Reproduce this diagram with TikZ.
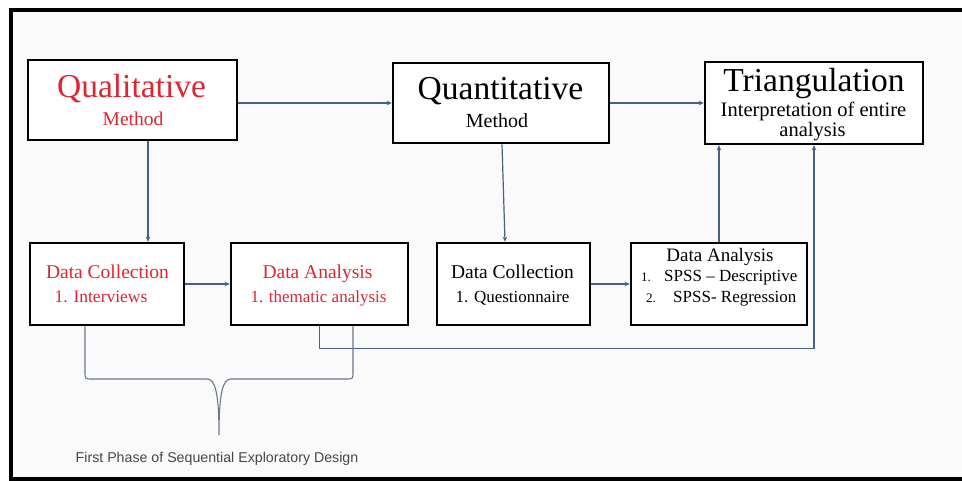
\documentclass[tikz,border=0pt]{standalone}
\usepackage{fontspec}
\setmainfont{Liberation Serif}
\newfontfamily\capfont{Liberation Sans}
\usetikzlibrary{arrows.meta,calc}
\definecolor{qred}{RGB}{220,38,50}
\definecolor{conn}{RGB}{68,98,134}
\definecolor{bracec}{RGB}{105,120,142}
\definecolor{bg}{RGB}{250,250,250}
\definecolor{captxt}{RGB}{70,70,70}
\newcommand{\fs}[1]{\fontsize{#1}{#1}\selectfont}
\tikzset{
  box/.style={draw=black, line width=2.6pt, fill=white, inner sep=0pt},
  connector/.style={draw=conn, line width=1.2pt, -{Stealth[length=5pt,width=4.5pt]}},
  bracepath/.style={draw=bracec, line width=1.1pt},
  txt/.style={anchor=base, inner sep=0pt},
}
\begin{document}
\begin{tikzpicture}[x=1pt,y=-1pt]
\useasboundingbox (0,0) rectangle (962,481);
\fill[white] (0,0) rectangle (962,481);
\fill[bg] (11,10) rectangle (962,479);
\draw[line width=4pt, black] (962,10) -- (11,10) -- (11,479) -- (962,479);

% boxes
\node[box, minimum width=209pt, minimum height=80pt] (qual) at (132.5,100) {};
\node[box, minimum width=216pt, minimum height=80pt] (quant) at (501,103) {};
\node[box, minimum width=218pt, minimum height=82pt] (tri) at (814,103) {};
\node[box, minimum width=154pt, minimum height=82pt] (dc1) at (107,284) {};
\node[box, minimum width=177pt, minimum height=82pt] (da1) at (319.5,284) {};
\node[box, minimum width=153pt, minimum height=82pt] (dc2) at (513.5,284) {};
\node[box, minimum width=176pt, minimum height=82pt] (da2) at (719,284) {};

% texts
\node[txt, text=qred] (qualT) at (131.5,98) {\fs{33.5}Qualitative};
\node[txt, text=qred] (qualM) at (133,126) {\fs{19.5}Method};
\node[txt] (quantT) at (500.5,100) {\fs{33.5}Quantitative};
\node[txt] (quantM) at (497,128) {\fs{20}Method};
\node[txt] (triT) at (814,92) {\fs{33.5}Triangulation};
\node[txt] (triA) at (813.5,117) {\fs{20.5}Interpretation of entire};
\node[txt] (triB) at (812.5,137) {\fs{20.5}analysis};

\node[txt, text=qred] (dc1T) at (107.5,279) {\fs{19.5}Data Collection};
\node[txt, text=qred] (dc1L) at (101,302) {\fs{17.5}1. Interviews};
\node[txt, text=qred] (da1T) at (317.5,279) {\fs{19.5}Data Analysis};
\node[txt, text=qred] (da1L) at (318.5,302) {\fs{17}1. thematic analysis};
\node[txt] (dc2T) at (512.5,279) {\fs{19.5}Data Collection};
\node[txt] (dc2L) at (512.5,302) {\fs{17}1. Questionnaire};
\node[txt] (da2T) at (720,262) {\fs{19}Data Analysis};
\node[txt, anchor=base west] (da2n1) at (641,282) {\fs{13}1.};
\node[txt, anchor=base west] (da2L1) at (664,282) {\fs{17}SPSS -- Descriptive};
\node[txt, anchor=base west] (da2n2) at (646,302) {\fs{13}2.};
\node[txt, anchor=base west] (da2L2) at (673,302) {\fs{17}SPSS- Regression};

% connectors
\draw[connector] (qual.east |- quant.west) -- (quant.west);
\draw[connector] (quant.east) -- (tri.west);
\draw[connector] ([xshift=15.5pt]qual.south) -- ([xshift=41pt]dc1.north);
\draw[connector] ([xshift=1pt]quant.south) -- ([xshift=-8.5pt]dc2.north);
\draw[connector] (dc1.east) -- (da1.west);
\draw[connector] (dc2.east) -- (da2.west);
\draw[connector] (da2.north) -- (da2.north |- tri.south);
\draw[connector] (da1.south) -- ++(0,22) -| (tri.south);

% brace
\draw[bracepath] ([xshift=-22pt]dc1.south) -- (85,372) .. controls (85,379) .. (92,379)
  -- (207,379) .. controls (215,379) and (219,392) .. (219,435)
  .. controls (219,392) and (223,379) .. (231,379) -- (346,379)
  .. controls (353,379) .. (353,372) -- ([xshift=33.5pt]da1.south);

\node[txt, text=captxt] (cap) at (217,462) {\capfont\fs{14.2}First Phase of Sequential Exploratory Design};
\end{tikzpicture}
\end{document}
